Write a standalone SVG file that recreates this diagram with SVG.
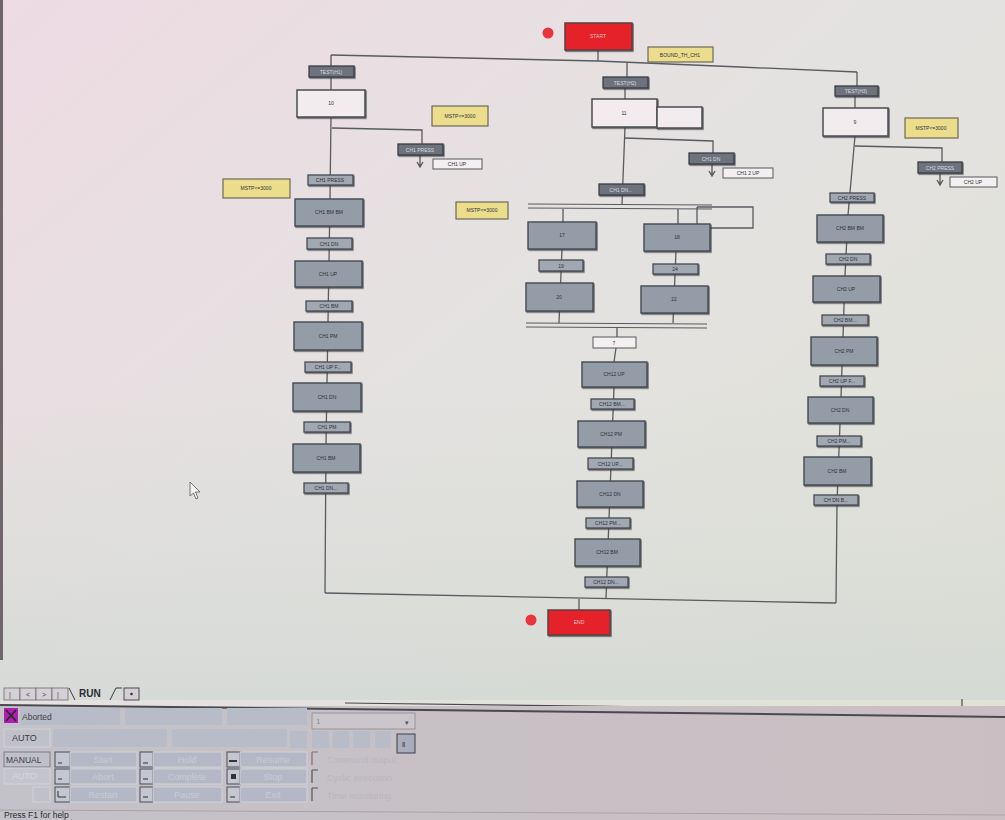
<svg xmlns="http://www.w3.org/2000/svg" width="1005" height="820" viewBox="0 0 1005 820">
<defs>
<linearGradient id="bg" x1="0" y1="0" x2="1" y2="1">
<stop offset="0" stop-color="#eedbe3"/>
<stop offset="0.45" stop-color="#e4e2e1"/>
<stop offset="1" stop-color="#dfe2d4"/>
</linearGradient>
<linearGradient id="bgl" x1="0" y1="0" x2="0" y2="1">
<stop offset="0" stop-color="#d9dcd8" stop-opacity="0"/>
<stop offset="1" stop-color="#d3d8d4" stop-opacity="0.8"/>
</linearGradient>
<linearGradient id="panel" x1="0" y1="0" x2="1" y2="0">
<stop offset="0" stop-color="#c3c2c8"/>
<stop offset="1" stop-color="#cbbec2"/>
</linearGradient>
<filter id="sh" x="-10%" y="-10%" width="130%" height="140%">
<feDropShadow dx="1" dy="1.2" stdDeviation="0.7" flood-color="#30333a" flood-opacity="0.7"/>
</filter>
<style>
.ln{stroke:#585b60;stroke-width:1.3;fill:none}
.dl{stroke:#585b60;stroke-width:1.2;fill:none}
.ar{stroke:#555;stroke-width:1.3;fill:none}
.st{fill:#949ca7;stroke:#454a52;stroke-width:1.4;filter:url(#sh)}
.tr{fill:#a1a8b2;stroke:#454a52;stroke-width:1.3;filter:url(#sh)}
.trd{fill:#6e727c;stroke:#3a3d43;stroke-width:1.3;filter:url(#sh)}
.wh{fill:#f2ecee;stroke:#4a4d52;stroke-width:1.5;filter:url(#sh)}
.wt{fill:#f4eff0;stroke:#55585d;stroke-width:1}
.yl{fill:#ecdd8c;stroke:#6d6a55;stroke-width:1.2}
.rd{fill:#e5242a;stroke:#5a4040;stroke-width:1.5;filter:url(#sh)}
.t{font-family:"Liberation Sans",Arial,sans-serif;font-size:5px;fill:#2e3238;text-anchor:middle}
.tl{font-family:"Liberation Sans",Arial,sans-serif;font-size:5px;fill:#d8dbe0;text-anchor:middle}
.tw{font-family:"Liberation Sans",Arial,sans-serif;font-size:5px;fill:#f2c2c2;text-anchor:middle}
.pb{fill:#b4b8c6;stroke:#d6d6dc;stroke-width:0.8}
.pf{fill:#b8bbc8}
.pt{font-family:"Liberation Sans",Arial,sans-serif;font-size:9px;fill:#c8ccd8;text-anchor:middle}
.ps{font-family:"Liberation Sans",Arial,sans-serif;font-size:9px;fill:#40424a}
.pc{font-family:"Liberation Sans",Arial,sans-serif;font-size:9px;fill:#b9b6be}
.ic{fill:#c4c6d0;stroke:#4a4c55;stroke-width:1}
</style>
</defs>
<rect x="0" y="0" width="1005" height="820" fill="url(#bg)"/>
<rect x="0" y="380" width="1005" height="320" fill="url(#bgl)"/>
<rect x="0" y="0" width="3" height="660" fill="#6e666b"/>

<g id="connectors">
<path class="ln" d="M598,50 L598,61"/>
<path class="ln" d="M331,55 L598,61 L740,67 L857,72"/>
<path class="ln" d="M627,63 L627,77"/>
<path class="ln" d="M331,55 L331,90 M331,117 L330,199 L328,322 L326,444 L325,593"/>
<path class="ln" d="M332,128 L422,130 L422,144"/>
<path class="ar" d="M420,155 L420,166 M417,162 L420,167 L423,162"/>
<path class="ln" d="M625,77 L625,99 M625,127 L622,204"/>
<path class="ln" d="M625,138 L713,141 L713,153"/>
<path class="ar" d="M712,164 L712,175 M709,171 L712,176 L715,171"/>
<path class="dl" d="M528,204 L712,205 M528,208 L712,209"/>
<path class="ln" d="M697,207 L753,207 L753,228 L710,228 M697,207 L697,224"/>
<path class="ln" d="M563,209 L563,222 M562,249 L559,323"/>
<path class="ln" d="M678,209 L678,224 M676,251 L673,323"/>
<path class="dl" d="M526,323 L707,324 M526,327 L707,328"/>
<path class="ln" d="M617,328 L617,337 M616,348 L614,362 M614,387 L606,598"/>
<path class="ln" d="M857,72 L857,86 M855,96 L855,108 M855,136 L848,215 L845,276 L841,397 L837,503 L836,603"/>
<path class="ln" d="M855,146 L942,148 L942,162"/>
<path class="ar" d="M940,173 L940,184 M937,180 L940,185 L943,180"/>
<path class="ln" d="M325,593 L836,603"/>
<path class="ln" d="M579,599 L579,610"/>
</g>

<g id="start">
<rect class="rd" x="565" y="23" width="67" height="27"/>
<text class="tw" x="598" y="38">START</text>
<circle cx="548" cy="33" r="5.5" fill="#e8343c"/>
</g>
<g id="bound"><rect class="yl" x="648" y="47" width="65" height="15"/><text class="t" x="680" y="56.5">BOUND_TH_CH1</text></g>

<g id="t-test1"><rect class="trd" x="309" y="66" width="45" height="11"/><text class="tl" x="331" y="73.5">TEST(H1)</text></g>
<g id="s10"><rect class="wh" x="297" y="90" width="68" height="27"/><text class="t" x="331" y="105">10</text></g>
<g id="y-left1"><rect class="yl" x="432" y="106" width="56" height="20"/><text class="t" x="460" y="118">MSTP&lt;=3000</text></g>
<g id="t-l-press"><rect class="trd" x="398" y="144" width="45" height="11"/><text class="tl" x="420" y="151.5">CH1 PRESS</text></g>
<g id="a-l-up"><rect class="wt" x="433" y="159" width="49" height="10"/><text class="t" x="457" y="166">CH1 UP</text></g>
<g id="y-left2"><rect class="yl" x="223" y="179" width="67" height="19"/><text class="t" x="256" y="190">MSTP&lt;=3000</text></g>
<g id="t-l1"><rect class="tr" x="308" y="175" width="45" height="10"/><text class="t" x="330" y="182">CH1 PRESS</text></g>
<g id="s-l1"><rect class="st" x="295" y="199" width="68" height="27"/><text class="t" x="329" y="214">CH1 BM BM</text></g>
<g id="t-l2"><rect class="tr" x="307" y="238" width="45" height="11"/><text class="t" x="329" y="245.5">CH1 DN</text></g>
<g id="s-l2"><rect class="st" x="295" y="261" width="67" height="26"/><text class="t" x="328" y="276">CH1 UP</text></g>
<g id="t-l3"><rect class="tr" x="306" y="301" width="46" height="10"/><text class="t" x="329" y="308">CH1 BM</text></g>
<g id="s-l3"><rect class="st" x="294" y="322" width="68" height="28"/><text class="t" x="328" y="338">CH1 PM</text></g>
<g id="t-l4"><rect class="tr" x="305" y="362" width="46" height="10"/><text class="t" x="328" y="369">CH1 UP F...</text></g>
<g id="s-l4"><rect class="st" x="293" y="383" width="68" height="28"/><text class="t" x="327" y="399">CH1 DN</text></g>
<g id="t-l5"><rect class="tr" x="304" y="422" width="46" height="10"/><text class="t" x="327" y="429">CH1 PM</text></g>
<g id="s-l5"><rect class="st" x="293" y="444" width="67" height="28"/><text class="t" x="326" y="460">CH1 BM</text></g>
<g id="t-l6"><rect class="tr" x="304" y="483" width="44" height="10"/><text class="t" x="326" y="490">CH1 DN...</text></g>

<g id="t-test2"><rect class="trd" x="603" y="77" width="45" height="11"/><text class="tl" x="625" y="84.5">TEST(H2)</text></g>
<g id="s11"><rect class="wh" x="592" y="99" width="65" height="28"/><rect class="wh" x="657" y="107" width="45" height="21"/><text class="t" x="624" y="115">11</text></g>
<g id="t-m-dn"><rect class="trd" x="689" y="153" width="45" height="11"/><text class="tl" x="711" y="160.5">CH1 DN</text></g>
<g id="a-m-up"><rect class="wt" x="723" y="168" width="50" height="10"/><text class="t" x="748" y="175">CH1 2 UP</text></g>
<g id="y-mid"><rect class="yl" x="456" y="202" width="52" height="17"/><text class="t" x="482" y="212">MSTP&lt;=3000</text></g>
<g id="t-m1"><rect class="trd" x="599" y="184" width="45" height="11"/><text class="tl" x="621" y="191.5">CH1 DN...</text></g>
<g id="s17"><rect class="st" x="528" y="222" width="68" height="27"/><text class="t" x="562" y="237">17</text></g>
<g id="t19"><rect class="tr" x="539" y="260" width="44" height="11"/><text class="t" x="561" y="267.5">19</text></g>
<g id="s20"><rect class="st" x="526" y="283" width="67" height="28"/><text class="t" x="559" y="299">20</text></g>
<g id="s18"><rect class="st" x="644" y="224" width="66" height="27"/><text class="t" x="677" y="239">18</text></g>
<g id="t24"><rect class="tr" x="653" y="264" width="45" height="10"/><text class="t" x="675" y="271">24</text></g>
<g id="s22"><rect class="st" x="641" y="286" width="67" height="27"/><text class="t" x="674" y="301">22</text></g>
<g id="t7"><rect class="wt" x="593" y="337" width="43" height="11" stroke-width="1.4"/><text class="t" x="614" y="344.5">7</text></g>
<g id="s-m1"><rect class="st" x="582" y="362" width="65" height="25"/><text class="t" x="614" y="376">CH12 UP</text></g>
<g id="t-m2"><rect class="tr" x="591" y="399" width="43" height="10"/><text class="t" x="612" y="406">CH12 BM...</text></g>
<g id="s-m2"><rect class="st" x="578" y="421" width="67" height="26"/><text class="t" x="611" y="436">CH12 PM</text></g>
<g id="t-m3"><rect class="tr" x="588" y="458" width="45" height="11"/><text class="t" x="610" y="465.5">CH12 UP...</text></g>
<g id="s-m3"><rect class="st" x="577" y="481" width="66" height="26"/><text class="t" x="610" y="496">CH12 DN</text></g>
<g id="t-m4"><rect class="tr" x="586" y="518" width="44" height="10"/><text class="t" x="608" y="525">CH12 PM...</text></g>
<g id="s-m4"><rect class="st" x="575" y="539" width="65" height="27"/><text class="t" x="607" y="554">CH12 BM</text></g>
<g id="t-m5"><rect class="tr" x="585" y="577" width="43" height="10"/><text class="t" x="606" y="584">CH12 DN...</text></g>

<g id="t-test3"><rect class="trd" x="835" y="86" width="43" height="10"/><text class="tl" x="856" y="93">TEST(H3)</text></g>
<g id="s9"><rect class="wh" x="823" y="108" width="65" height="28"/><text class="t" x="855" y="124">9</text></g>
<g id="y-right"><rect class="yl" x="905" y="118" width="53" height="20"/><text class="t" x="931" y="130">MSTP&lt;=3000</text></g>
<g id="t-r-press"><rect class="trd" x="918" y="162" width="44" height="11"/><text class="tl" x="940" y="169.5">CH2 PRESS</text></g>
<g id="a-r-up"><rect class="wt" x="950" y="177" width="47" height="10"/><text class="t" x="973" y="184">CH2 UP</text></g>
<g id="t-r1"><rect class="tr" x="830" y="193" width="44" height="9"/><text class="t" x="852" y="199.5">CH2 PRESS</text></g>
<g id="s-r1"><rect class="st" x="817" y="215" width="66" height="27"/><text class="t" x="850" y="230">CH2 BM BM</text></g>
<g id="t-r2"><rect class="tr" x="826" y="254" width="44" height="10"/><text class="t" x="848" y="261">CH2 DN</text></g>
<g id="s-r2"><rect class="st" x="813" y="276" width="67" height="26"/><text class="t" x="846" y="291">CH2 UP</text></g>
<g id="t-r3"><rect class="tr" x="822" y="315" width="46" height="10"/><text class="t" x="845" y="322">CH2 BM...</text></g>
<g id="s-r3"><rect class="st" x="811" y="337" width="66" height="28"/><text class="t" x="844" y="353">CH2 PM</text></g>
<g id="t-r4"><rect class="tr" x="820" y="376" width="44" height="10"/><text class="t" x="842" y="383">CH2 UP F...</text></g>
<g id="s-r4"><rect class="st" x="808" y="397" width="65" height="26"/><text class="t" x="840" y="412">CH2 DN</text></g>
<g id="t-r5"><rect class="tr" x="817" y="436" width="44" height="10"/><text class="t" x="839" y="443">CH2 PM...</text></g>
<g id="s-r5"><rect class="st" x="804" y="457" width="67" height="28"/><text class="t" x="837" y="473">CH2 BM</text></g>
<g id="t-r6"><rect class="tr" x="814" y="495" width="44" height="10"/><text class="t" x="836" y="502">CH DN B...</text></g>

<g id="end">
<rect class="rd" x="548" y="610" width="62" height="25"/>
<text class="tw" x="579" y="624">END</text>
<circle cx="531" cy="620" r="5.5" fill="#e8343c"/>
</g>

<g id="cursor"><path d="M190,482 L190,496 L193.5,493 L196,499 L198,498 L195.5,492 L200,492 Z" fill="#f4f4f4" stroke="#555" stroke-width="0.8"/></g>

<g id="tabs">
<rect x="4" y="688" width="16" height="12" fill="#d4d0d6" stroke="#6a6a72" stroke-width="0.8"/>
<rect x="20" y="688" width="16" height="12" fill="#d4d0d6" stroke="#6a6a72" stroke-width="0.8"/>
<rect x="36" y="688" width="16" height="12" fill="#d4d0d6" stroke="#6a6a72" stroke-width="0.8"/>
<rect x="52" y="688" width="16" height="12" fill="#d4d0d6" stroke="#6a6a72" stroke-width="0.8"/>
<text class="ps" x="9" y="697" style="font-size:7px">|</text>
<text class="ps" x="26" y="697" style="font-size:7px">&lt;</text>
<text class="ps" x="42" y="697" style="font-size:7px">&gt;</text>
<text class="ps" x="57" y="697" style="font-size:7px">|</text>
<path d="M69,688 L75,700 M110,700 L116,688 L122,688" stroke="#3a3a40" stroke-width="1" fill="none"/>
<text class="ps" x="79" y="697" style="font-size:10px;font-weight:bold;fill:#2a2a30">RUN</text>
<rect x="124" y="688" width="15" height="12" fill="#d4d0d6" stroke="#4a4a52" stroke-width="1"/>
<circle cx="131.5" cy="694" r="1.3" fill="#333"/>
<path d="M345,703 L962,711 L962,699" stroke="#4a4a50" stroke-width="1.2" fill="none"/>
</g>
<rect x="0" y="706" width="1005" height="114" fill="url(#panel)"/>
<path d="M0,705 L1005,717" stroke="#4a494f" stroke-width="2"/>
<g id="row1">
<rect x="4" y="708" width="14" height="15" fill="#b01fb0"/>
<path d="M6,710 L16,721 M16,710 L6,721" stroke="#2a2a2a" stroke-width="1.8"/>
<rect class="pf" x="20" y="708" width="100" height="17"/>
<rect class="pf" x="125" y="708" width="97" height="17"/>
<rect class="pf" x="227" y="708" width="80" height="17"/>
<text class="ps" x="22" y="719.5" style="font-size:8.5px">Aborted</text>
<rect x="312" y="713" width="103" height="16" fill="#cbc6cb" stroke="#8a8890" stroke-width="0.8"/>
<text class="ps" x="316" y="724" style="font-size:8px;fill:#8a8a92">1</text>
<text class="ps" x="405" y="725" style="font-size:7px;fill:#555">▾</text>
</g>
<g id="row2">
<rect x="4" y="729" width="46" height="18" fill="#c0c0c8" stroke="#d6d6dc" stroke-width="0.8"/>
<text class="ps" x="12" y="741" style="fill:#3c3c44">AUTO</text>
<rect class="pf" x="53" y="729" width="114" height="18"/>
<rect class="pf" x="172" y="729" width="115" height="18"/>
<rect class="pf" x="290" y="731" width="17" height="17"/>
<rect class="pf" x="312" y="731" width="17" height="17"/>
<rect class="pf" x="333" y="731" width="16" height="17"/>
<rect class="pf" x="353" y="731" width="17" height="17"/>
<rect class="pf" x="375" y="731" width="16" height="17"/>
<rect x="397" y="734" width="18" height="19" fill="#a8acbc" stroke="#3e3e48" stroke-width="1"/>
<text class="ps" x="402" y="747" style="font-size:8px;fill:#333">‖</text>
</g>
<g id="row3">
<rect x="4" y="752" width="46" height="15" fill="#c0c0c8" stroke="#6c6c74" stroke-width="0.8"/>
<text class="ps" x="6" y="763" style="font-size:8.5px;fill:#3c3c44">MANUAL</text>
<rect class="ic" x="55" y="752" width="15" height="15"/><path d="M58,763 L62,763" stroke="#333" stroke-width="1"/>
<rect class="pb" x="70" y="752" width="67" height="15"/><text class="pt" x="103" y="763">Start</text>
<rect class="ic" x="140" y="752" width="13" height="15"/><path d="M143,763 L148,763" stroke="#333" stroke-width="1"/>
<rect class="pb" x="153" y="752" width="69" height="15"/><text class="pt" x="187" y="763">Hold</text>
<rect class="ic" x="227" y="752" width="13" height="15"/><path d="M229,761 L237,761" stroke="#333" stroke-width="2"/>
<rect class="pb" x="240" y="752" width="67" height="15"/><text class="pt" x="273" y="763">Resume</text>
<path d="M312,752 L312,765 M312,752 L318,752" stroke="#8b6a6f" stroke-width="1.2"/>
<text class="pc" x="327" y="763">Command output</text>
</g>
<g id="row4">
<rect x="4" y="768" width="46" height="16" fill="#c4c4cc" stroke="#d6d6dc" stroke-width="0.8"/>
<text class="ps" x="12" y="779" style="fill:#d6d6de">AUTO</text>
<rect class="ic" x="55" y="769" width="15" height="15"/><path d="M58,779 L62,779" stroke="#333" stroke-width="1"/>
<rect class="pb" x="70" y="769" width="67" height="15"/><text class="pt" x="103" y="780">Abort</text>
<rect class="ic" x="140" y="769" width="13" height="15"/><path d="M143,779 L148,779" stroke="#333" stroke-width="1"/>
<rect class="pb" x="153" y="769" width="69" height="15"/><text class="pt" x="187" y="780">Complete</text>
<rect class="ic" x="227" y="769" width="13" height="15"/><rect x="231" y="774" width="5" height="5" fill="#333"/>
<rect class="pb" x="240" y="769" width="67" height="15"/><text class="pt" x="273" y="780">Stop</text>
<path d="M312,770 L312,783 M312,770 L318,770" stroke="#55555c" stroke-width="1.2"/>
<text class="pc" x="327" y="781">Cyclic execution</text>
</g>
<g id="row5">
<rect x="33" y="787" width="17" height="15" fill="#c0c0c8" stroke="#d6d6dc" stroke-width="0.8"/>
<rect class="ic" x="55" y="787" width="15" height="15"/><path d="M58,797 L66,797 M58,797 L58,791" stroke="#333" stroke-width="1"/>
<rect class="pb" x="70" y="787" width="67" height="15"/><text class="pt" x="103" y="798">Restart</text>
<rect class="ic" x="140" y="787" width="13" height="15"/><path d="M143,797 L148,797" stroke="#333" stroke-width="1"/>
<rect class="pb" x="153" y="787" width="69" height="15"/><text class="pt" x="187" y="798">Pause</text>
<rect class="ic" x="227" y="787" width="13" height="15"/><path d="M230,797 L235,797" stroke="#333" stroke-width="1"/>
<rect class="pb" x="240" y="787" width="67" height="15"/><text class="pt" x="273" y="798">Exit</text>
<path d="M312,788 L312,801 M312,788 L318,788" stroke="#55555c" stroke-width="1.2"/>
<text class="pc" x="327" y="799">Time monitoring</text>
</g>
<path d="M0,810 L1005,815" stroke="#a9a3a8" stroke-width="1"/>
<text class="ps" x="4" y="818" style="font-size:8.5px;fill:#2a2a30">Press F1 for help</text>
</svg>
